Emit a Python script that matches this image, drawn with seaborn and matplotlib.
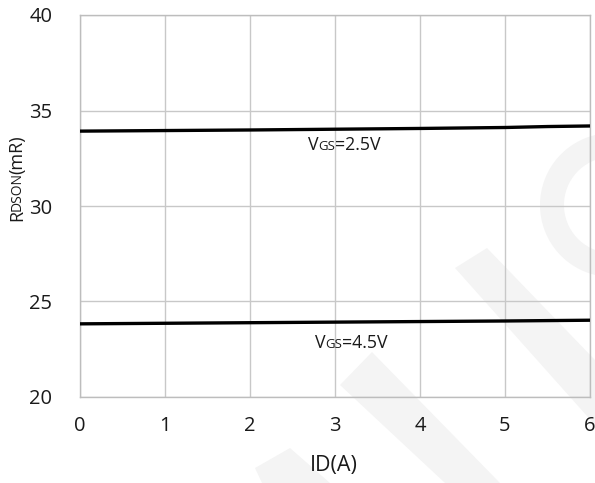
import matplotlib
matplotlib.use("Agg")
import matplotlib.pyplot as plt
from matplotlib.patches import Polygon, Wedge
import numpy as np
import pandas as pd
import seaborn as sns

# Drain current (A) and on-resistance (mOhm) for two gate voltages
id_amps = [0, 1, 2, 3, 4, 5, 5.5, 6]
rdson_vgs25 = [33.92, 33.95, 33.98, 34.02, 34.06, 34.11, 34.16, 34.19]
rdson_vgs45 = [23.83, 23.86, 23.89, 23.92, 23.95, 23.98, 24.00, 24.02]
x_ticks = [0, 1, 2, 3, 4, 5, 6]
y_ticks = [20, 25, 30, 35, 40]

sns.set_theme(style="white")
plt.rcParams["font.family"] = ["Open Sans", "DejaVu Sans"]

W, H = 595, 483
fig = plt.figure(figsize=(W / 100, H / 100), dpi=100)
fig.patch.set_facecolor("white")

# faint background logo, on its own axes behind the chart
bg = fig.add_axes([0, 0, 1, 1], zorder=-1)
bg.set_xlim(0, W)
bg.set_ylim(H, 0)
bg.axis("off")
wm = "#f4f4f4"
for pts in (
    [(455, 268), (487, 248), (595, 360), (595, 425)],
    [(340, 385), (372, 352), (500, 483), (445, 483)],
    [(255, 468), (290, 448), (330, 483), (262, 483)],
):
    bg.add_patch(Polygon(pts, closed=True, facecolor=wm, edgecolor="none"))
bg.add_patch(Wedge((612, 205), 72, 95, 265, width=24, facecolor=wm,
                   edgecolor="none"))

ax = fig.add_axes([80 / W, 1 - 397 / H, 510 / W, 382 / H])
ax.set_facecolor("none")

df = pd.DataFrame({
    "ID": id_amps * 2,
    "RDSON": rdson_vgs25 + rdson_vgs45,
    "VGS": ["2.5V"] * len(id_amps) + ["4.5V"] * len(id_amps),
})
sns.lineplot(data=df, x="ID", y="RDSON", units="VGS", estimator=None,
             color="black", linewidth=2.4, ax=ax, legend=False, zorder=3)

ax.set_xlim(0, 6)
ax.set_ylim(20, 40)
ax.set_xticks(x_ticks)
ax.set_yticks(y_ticks)
ax.grid(True, color="#c8c8c8", linewidth=1.0)
for s in ax.spines.values():
    s.set_color("#bdbdbd")
    s.set_linewidth(1.0)
ax.tick_params(axis="both", length=0, labelsize=14.5, colors="#1a1a1a")
ax.tick_params(axis="x", pad=14)
ax.tick_params(axis="y", pad=20)
ax.set_xlabel("")
ax.set_ylabel("")

fig.text(334 / W, 1 - 466 / H, "ID(A)", fontsize=15.5, color="#1a1a1a",
         ha="center", va="center")

fig.canvas.draw()
renderer = fig.canvas.get_renderer()


def run_text(x, y, parts, transform, rotation=0):
    """Draw consecutive text pieces of different sizes on a shared baseline."""
    for s, size, shift in parts:
        inv = transform.inverted()
        if rotation == 0:
            x += shift / W
        else:
            y += shift / H
        t = fig.text(x, y, s, fontsize=size, color="#1a1a1a", rotation=rotation,
                     ha="left" if rotation == 0 else "center",
                     va="baseline" if rotation == 0 else "bottom",
                     rotation_mode="anchor" if rotation == 0 else "default",
                     transform=transform)
        bb = t.get_window_extent(renderer)
        if rotation == 0:
            x = inv.transform((bb.x1, bb.y0))[0]
        else:
            y = inv.transform((bb.x0, bb.y1))[1]


# curve labels
for (lx, ly, volt) in ((2.68, 32.95, "2.5V"), (2.76, 22.55, "4.5V")):
    disp = ax.transData.transform((lx, ly))
    fx, fy = fig.transFigure.inverted().transform(disp)
    run_text(fx, fy, [("V", 12.8, 0), ("GS", 9.5, 0), ("=" + volt, 12.8, 0)],
             fig.transFigure)

# y-axis title
run_text(17 / W, 1 - 221 / H,
         [("R", 13, 0), ("DSON", 10, -1), ("(mR)", 13, -2)],
         fig.transFigure, rotation=90)

fig.savefig("out.png", dpi=100, facecolor="white")
